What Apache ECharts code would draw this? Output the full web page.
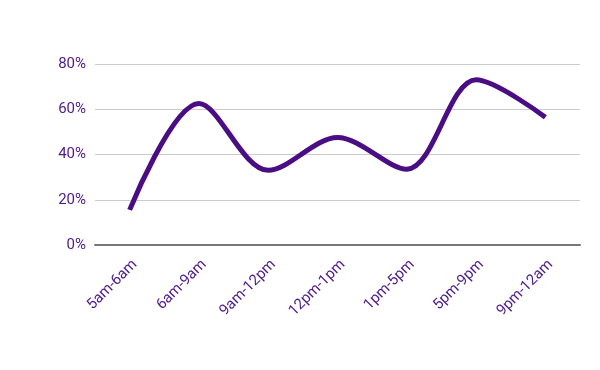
<!DOCTYPE html>
<html><head><meta charset="utf-8">
<script src="https://cdn.jsdelivr.net/npm/echarts@6/dist/echarts.min.js"></script>
<style>html,body{margin:0;padding:0;background:#fff}#c{width:600px;height:370px}</style>
</head><body><div id="c"></div>
<script>
const categories = ["5am-6am","6am-9am","9am-12pm","12pm-1pm","1pm-5pm","5pm-9pm","9pm-12am"];
const values = [15.5, 62.5, 33, 47.5, 33.5, 73, 56.5];
const yTicks = [0, 20, 40, 60, 80];

const chart = echarts.init(document.getElementById('c'));
chart.setOption({
  animation: false,
  grid: {left: 95, right: 20, top: 64, bottom: 125, containLabel: false},
  xAxis: {
    type: 'category', data: categories, boundaryGap: true,
    axisLine: {lineStyle: {color: '#777', width: 2}},
    axisTick: {show: false},
    axisLabel: {rotate: 45, color: '#4e1a8c', fontFamily: 'Roboto', fontSize: 15, margin: 12, verticalAlign: 'top'}
  },
  yAxis: {
    type: 'value', min: yTicks[0], max: yTicks[yTicks.length-1], interval: 20,
    axisLine: {show: false}, axisTick: {show: false},
    splitLine: {lineStyle: {color: '#cccccc', width: 1}},
    axisLabel: {formatter: '{value}%', color: '#4e1a8c', fontFamily: 'Roboto', fontSize: 15, margin: 9}
  },
  series: [{
    type: 'line', data: values, smooth: 0.33, showSymbol: false,
    lineStyle: {color: '#4a0d84', width: 5, cap: 'butt'}
  }]
});
</script></body></html>
